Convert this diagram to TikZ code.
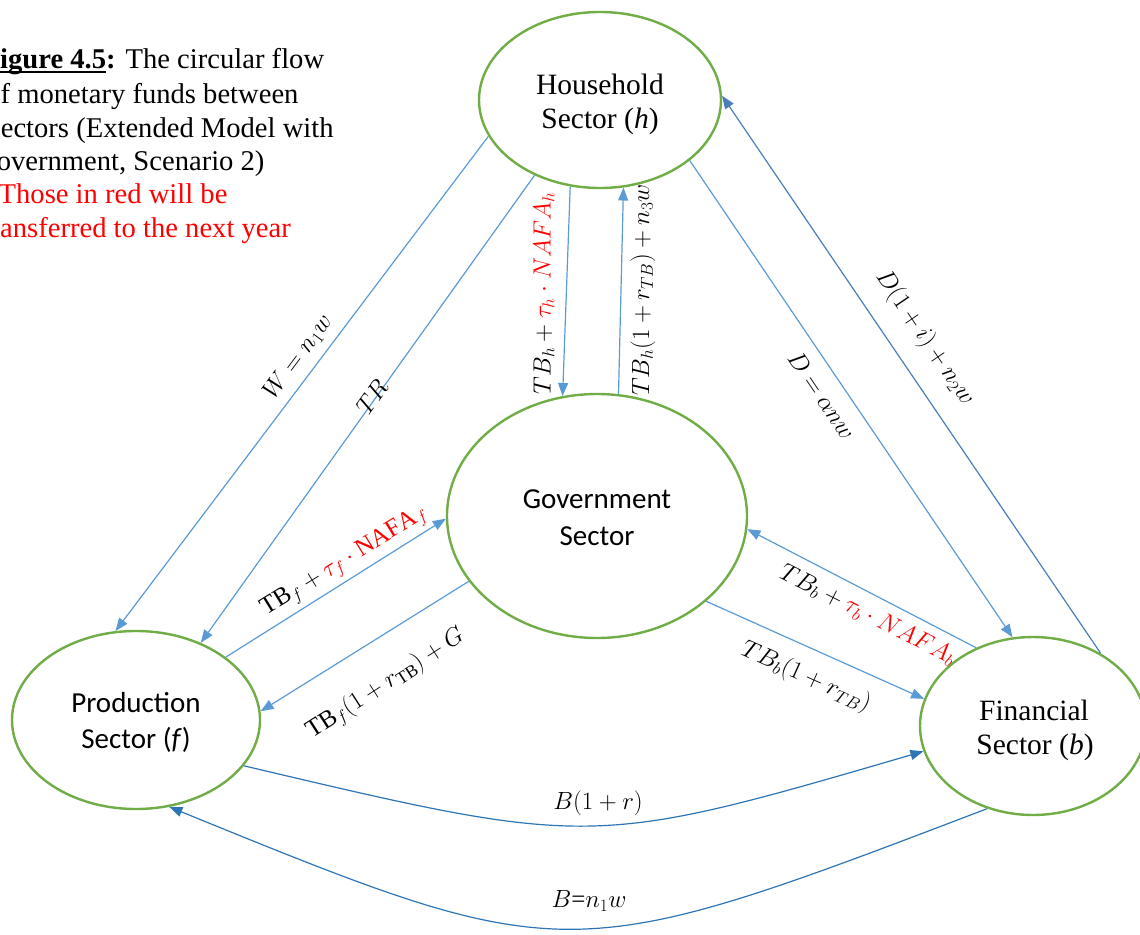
\documentclass[tikz,border=0pt]{standalone}
\usepackage{fontspec}
\setmainfont{Liberation Serif}
\newfontfamily\calibrifont{Carlito}
\newfontfamily\timesfont{Liberation Serif}
\usetikzlibrary{arrows.meta,shapes.geometric}
\pgfdeclarelayer{flows}
\pgfsetlayers{flows,main}
\definecolor{sectorgreen}{HTML}{70AD47}
\definecolor{flowblue}{HTML}{5B9BD5}
\definecolor{loanblue}{HTML}{2E75B6}
\definecolor{depblue}{HTML}{4A7EBB}
\definecolor{carry}{HTML}{FF0000}
% thick underline for the figure number
\newcommand\figul[1]{\setbox0\hbox{#1}\rlap{\rule[-5pt]{\wd0}{2.2pt}}\box0}
\begin{document}
\begin{tikzpicture}[x=1pt,y=1pt,
  sector/.style={ellipse, draw=sectorgreen, line width=2.4pt, fill=white, inner sep=0pt},
  serifname/.style={anchor=base, inner sep=0pt, font=\timesfont\fontsize{29.5}{34}\selectfont},
  sansname/.style={anchor=base, inner sep=0pt, font=\calibrifont\fontsize{29}{35}\selectfont},
  flow/.style={draw=flowblue, line width=1.2pt, -{Triangle[length=13pt,width=10pt]}},
  amount/.style={inner sep=0pt, font=\fontsize{25}{28}\selectfont},
  caption/.style={anchor=base west, inner sep=0pt, font=\timesfont\fontsize{28.6}{33.6}\selectfont}
]
\useasboundingbox (0,0) rectangle (1140,-934);

% ---- caption ----
\node[caption] (cap1) at (-17.5,-68) {\textbf{\figul{Figure 4.5}:}\hspace{10pt}The circular flow};
\node[caption] (cap2) at (-13.8,-103) {of monetary funds between};
\node[caption] (cap3) at (-10.5,-137) {sectors (Extended Model with};
\node[caption] (cap4) at (-24,-170) {Government, Scenario 2)};
\node[caption, text=carry] (cap5) at (-1.5,-203) {Those in red will be};
\node[caption, text=carry] (cap6) at (-17.5,-237) {transferred to the next year};

% ---- sectors ----
\node[sector, minimum width=242pt, minimum height=176pt] (h) at (600,-100) {};
\node[sector, minimum width=300pt, minimum height=244pt] (g) at (597,-516) {};
\node[sector, minimum width=248pt, minimum height=178pt] (f) at (136,-720) {};
\node[sector, minimum width=226pt, minimum height=178pt] (b) at (1033,-726) {};

\node[serifname] (hA) at (600,-94) {Household};
\node[serifname] (hB) at (600,-128) {Sector (\textit{h})};
\node[sansname] (gA) at (597,-508) {Government};
\node[sansname] (gB) at (597,-545) {Sector};
\node[sansname] (fA) at (136,-712) {Production};
\node[sansname] (fB) at (136,-748) {Sector (\textit{f})};
\node[serifname] (bA) at (1034,-720) {Financial};
\node[serifname] (bB) at (1035,-754) {Sector (\textit{b})};

% ---- flows ----
\begin{pgfonlayer}{flows}
\draw[flow] (h.198) -- (f.103);
\draw[flow] (h.229) -- (f.50);
\draw[flow] (h.251) -- (g.106);
\draw[flow] (g.80) -- (h.285);
\draw[flow] (h.326) -- (b.103);
\draw[flow, draw=depblue] (b.47) -- (h.2);
\draw[flow] (f.35) -- (g.181);
\draw[flow] (g.207) -- (f.4);
\draw[flow] (b.126) -- (g.355);
\draw[flow] (g.322) -- (b.166);
\draw[flow, draw=loanblue] (f.337) .. controls (592,-848) .. (b.193);
\draw[flow, draw=loanblue] (b.241) .. controls (567,-969) .. (f.291);

\node[amount, rotate=53.4] (lW) at (298,-357) {$W = n_1 w$};
\node[amount, rotate=54.7] (lTR) at (372,-397) {$TR$};
\node[amount, rotate=90] (lTBh) at (544,-293) {$TB_h + {\color{carry}\tau_h \cdot NAFA_h}$};
\node[amount, rotate=90] (lTBhr) at (643,-290) {$TB_h(1+r_{TB}) + n_3 w$};
\node[amount, rotate=-55.8] (lD) at (822,-395) {$D = \alpha n w$};
\node[amount, rotate=-55.8] (lDi) at (925,-338) {$D(1+i) + n_2 w$};
\node[amount, rotate=31.7] (lTBf) at (345,-562) {$\mathrm{TB}_f + {\color{carry}\tau_f \cdot \mathrm{NAFA}_f}$};
\node[amount, rotate=32.8] (lTBfr) at (386,-684) {$\mathrm{TB}_f(1+r_{\mathrm{TB}}) + G$};
\node[amount, rotate=-26.8] (lTBb) at (868,-615) {$TB_b + {\color{carry}\tau_b \cdot NAFA_b}$};
\node[amount, rotate=-24.2] (lTBbr) at (806,-677) {$TB_b(1+r_{TB})$};
\node[amount] (lB) at (598,-803) {$B(1+r)$};
\node[amount] (lBn) at (589,-901) {$B$=$n_1 w$};
\end{pgfonlayer}
\end{tikzpicture}
\end{document}
